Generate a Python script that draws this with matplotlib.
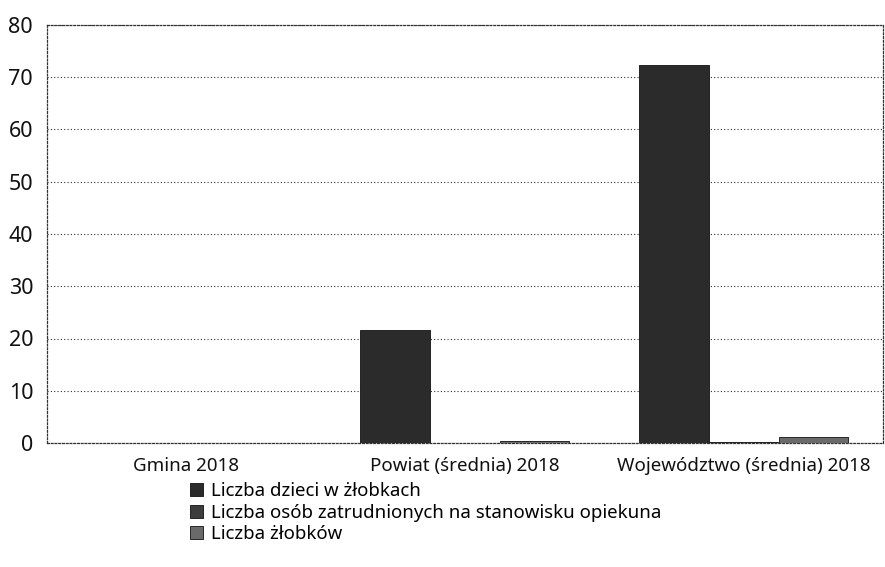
import matplotlib
matplotlib.use("Agg")
import matplotlib.pyplot as plt
import numpy as np

categories = ["Gmina 2018", "Powiat (średnia) 2018", "Województwo (średnia) 2018"]
series_names = ["Liczba dzieci w żłobkach",
                "Liczba osób zatrudnionych na stanowisku opiekuna",
                "Liczba żłobków"]
dzieci = [0, 21.7, 72.3]
opiekunowie = [0, 0, 0.1]
zlobki = [0, 0.3, 1.2]
y_ticks = [0, 10, 20, 30, 40, 50, 60, 70, 80]

plt.rcParams['font.family'] = ['Noto Sans', 'DejaVu Sans']

fig = plt.figure(figsize=(8.85, 5.67), dpi=100)
ax = fig.add_axes([47/885, 1-443/567, (883-47)/885, (443-25)/567])

x = np.arange(len(categories))
w = 0.25
colors = ['#2b2b2b', '#3d3d3d', '#6a6a6a']
for i, (vals, c, name) in enumerate(zip([dzieci, opiekunowie, zlobki], colors, series_names)):
    ax.bar(x + (i - 1) * w, vals, width=w, color=c, edgecolor='#111111', linewidth=0.6, label=name, zorder=3)

ax.set_xlim(-0.5, 2.5)
ax.set_ylim(0, 80)
ax.set_yticks(y_ticks)
ax.set_xticks(x)
ax.set_xticklabels(categories, fontsize=13.5, color='#111111')
ax.tick_params(axis='y', length=0, pad=10, labelsize=15.5, labelcolor='#111111')
ax.tick_params(axis='x', length=0, pad=10)
ax.yaxis.grid(True, linestyle=(0, (1, 2)), color='#333333', linewidth=0.8, zorder=0)
for s in ax.spines.values():
    s.set_linestyle((0, (1.5, 1.5)))
    s.set_color('#333333')
    s.set_linewidth(0.9)

handles, labels = ax.get_legend_handles_labels()
fig.legend(handles, labels, loc='upper left', bbox_to_anchor=(190/885, 1-482/567),
           frameon=False, fontsize=13.4, handlelength=0.7, handleheight=0.7,
           handletextpad=0.45, labelspacing=0.2, borderaxespad=0, borderpad=0)

fig.savefig("out.png", dpi=100)
